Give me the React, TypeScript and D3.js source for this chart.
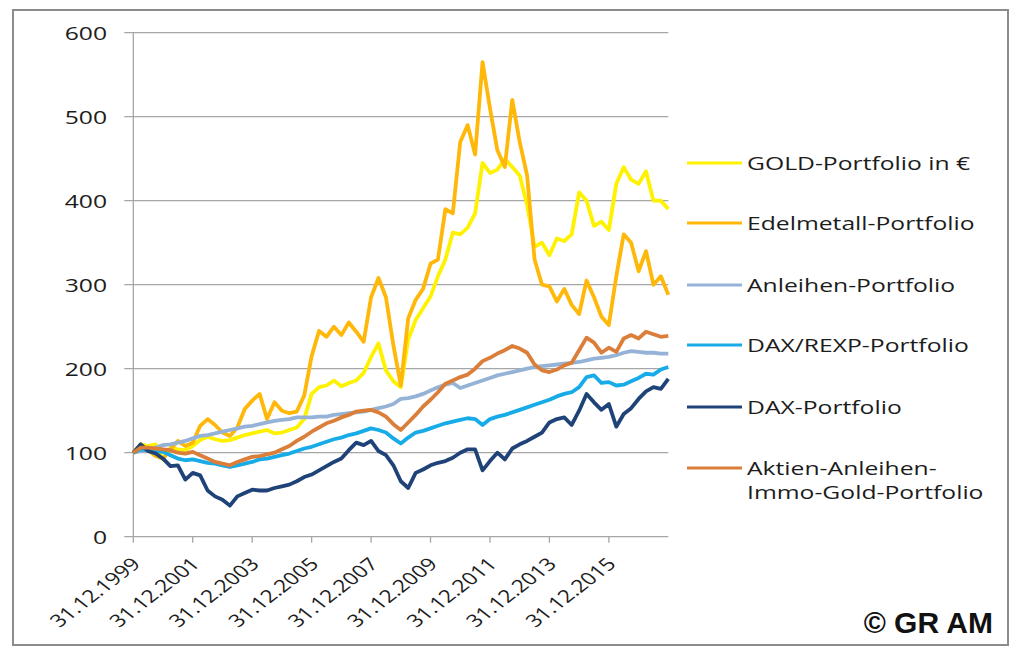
import React, { useEffect, useRef } from "react";
import * as d3 from "d3";

// one reading per quarter, starting 31.12.1999 (t = 0 years)
const START_YEAR = 1999;
const STEP = 0.25;

const goldValues = [
  100, 110, 108, 110, 92, 106, 104, 103, 108, 115, 119, 116, 114, 115, 118, 121,
  123, 125, 127, 123, 124, 127, 130, 140, 170, 178, 180, 186, 179, 183, 186, 195,
  214, 230, 198, 185, 178, 235, 258, 272, 286, 310, 330, 362, 360, 368, 385, 445,
  433, 437, 450, 440, 430, 395, 345, 350, 335, 355, 352, 360, 410, 400, 370, 375,
  365, 420, 440, 425, 420, 435, 400, 400, 390,
];
const edelmetallValues = [
  100, 106, 103, 96, 93, 104, 114, 108, 112, 132, 140, 133, 124, 120, 130, 152,
  162, 170, 140, 160, 150, 147, 149, 168, 215, 245, 238, 250, 240, 255, 244, 232,
  285, 308, 285, 228, 180, 260, 282, 295, 325, 330, 390, 385, 470, 490, 455, 565,
  510, 460, 440, 520, 470, 430, 330, 300, 298, 280, 295, 276, 265, 305, 285, 262,
  252, 310, 360, 350, 316, 340, 300, 310, 288,
];
const anleihenValues = [
  100, 102, 103, 106, 109, 110, 112, 114, 117, 120, 121, 123, 125, 127, 129, 131,
  132, 134, 136, 138, 139, 140, 142, 142, 142, 143, 143, 145, 146, 147, 148, 149,
  151, 153, 155, 158, 164, 165, 167, 170, 174, 178, 181, 183, 177, 180, 183, 186,
  189, 192, 194, 196, 198, 200, 202, 203, 204, 205, 206, 207, 208, 210, 212, 213,
  214, 216, 219, 221, 220, 219, 219, 218, 218,
];
const daxRexpValues = [
  100, 104, 103, 102, 101, 97, 93, 91, 92, 90, 88, 87, 85, 83, 85, 87,
  89, 92, 93, 95, 97, 99, 102, 105, 107, 110, 113, 116, 118, 121, 123, 126,
  129, 127, 124, 117, 111, 118, 124, 126, 129, 132, 135, 137, 139, 141, 140, 133,
  140, 143, 145, 148, 151, 154, 157, 160, 163, 167, 170, 172, 178, 190, 192, 183,
  184, 180, 181, 185, 189, 194, 193, 199, 202,
];
const daxValues = [
  100, 110, 102, 99, 93, 84, 85, 68, 76, 73, 55, 48, 44, 37, 48, 52,
  56, 55, 55, 58, 60, 62, 66, 71, 74, 79, 84, 89, 93, 103, 112, 109,
  114, 102, 97, 85, 66, 58, 76, 80, 85, 88, 90, 94, 100, 104, 104, 79,
  90, 100, 92, 105, 110, 114, 119, 124, 136, 140, 142, 133, 150, 170, 160, 151,
  158, 131, 146, 153, 164, 173, 178, 176, 188,
];
const mixValues = [
  100, 106, 106, 105, 104, 103, 100, 99, 101, 97, 93, 89, 87, 85, 89, 92,
  95, 96, 98, 100, 104, 108, 114, 119, 125, 130, 135, 138, 142, 145, 149, 150,
  151, 148, 143, 134, 127, 136, 145, 155, 163, 172, 182, 186, 190, 193, 200, 209,
  213, 218, 222, 227, 224, 219, 205, 198, 196, 199, 204, 207, 222, 237, 231, 219,
  225, 220, 236, 240, 236, 244, 241, 238, 239,
];

const series = [
  { label: ["GOLD-Portfolio in €"], color: "#FFF200", values: goldValues },
  { label: ["Edelmetall-Portfolio"], color: "#FFB80A", values: edelmetallValues },
  { label: ["Anleihen-Portfolio"], color: "#95B3D7", values: anleihenValues },
  { label: ["DAX/REXP-Portfolio"], color: "#17ACE8", values: daxRexpValues },
  { label: ["DAX-Portfolio"], color: "#1F4378", values: daxValues },
  { label: ["Aktien-Anleihen-", "Immo-Gold-Portfolio"], color: "#DA7E3A", values: mixValues },
];

const yTicks = [0, 100, 200, 300, 400, 500, 600];
const xTickYears = [1999, 2001, 2003, 2005, 2007, 2009, 2011, 2013, 2015];
const legendRowsY = [163, 223, 285, 345, 407, 468];

const FONT = "'Open Sans', 'DejaVu Sans', sans-serif";
const TEXT_COLOR = "#1c1c1c";
// the original picture is stretched sideways, text included
const STRETCH = 1.3;

export default function App() {
  const svgRef = useRef<SVGSVGElement>(null);

  useEffect(() => {
    if (!svgRef.current) return;
    const svg = d3.select(svgRef.current);
    svg.selectAll("*").remove();

    const plot = { left: 133.3, right: 668.3, top: 32.7, bottom: 536.7 };
    const x = d3.scaleLinear().domain([0, 18]).range([plot.left, plot.right]);
    const y = d3.scaleLinear().domain([0, 600]).range([plot.bottom, plot.top]);

    svg.append("rect").attr("width", 1024).attr("height", 662).attr("fill", "#fff");

    // outer frame
    svg.append("rect")
      .attr("x", 13).attr("y", 10)
      .attr("width", 995).attr("height", 635)
      .attr("fill", "#fff")
      .attr("stroke", "#8c8c8c")
      .attr("stroke-width", 2);

    // gridlines + y labels
    yTicks.forEach((v) => {
      svg.append("line")
        .attr("x1", plot.left - 9).attr("x2", plot.right)
        .attr("y1", y(v)).attr("y2", y(v))
        .attr("stroke", "#a6a6a6").attr("stroke-width", 1.3);
      svg.append("g")
        .attr("transform", `translate(107,${y(v)}) scale(${STRETCH},1)`)
        .append("text")
        .attr("text-anchor", "end")
        .attr("dy", "0.36em")
        .attr("font-family", FONT)
        .attr("font-size", 19)
        .attr("fill", TEXT_COLOR)
        .text(String(v));
    });

    // y axis line
    svg.append("line")
      .attr("x1", plot.left).attr("x2", plot.left)
      .attr("y1", plot.top).attr("y2", plot.bottom)
      .attr("stroke", "#a6a6a6").attr("stroke-width", 1.3);

    // x ticks + rotated date labels
    xTickYears.forEach((yr) => {
      const tx = x(yr - START_YEAR);
      svg.append("line")
        .attr("x1", tx).attr("x2", tx)
        .attr("y1", plot.bottom).attr("y2", plot.bottom + 6)
        .attr("stroke", "#a6a6a6").attr("stroke-width", 1.3);
      svg.append("text")
        .attr("transform", `translate(${tx + 2.5},${plot.bottom + 24}) scale(${STRETCH},1) rotate(-45)`)
        .attr("text-anchor", "end")
        .attr("dy", "0.36em")
        .attr("font-family", FONT)
        .attr("font-size", 17.5)
        .attr("fill", TEXT_COLOR)
        .text(`31.12.${yr}`);
    });

    // series lines
    const line = d3.line<number>()
      .x((_, i) => x(i * STEP))
      .y((d) => y(d));

    series.forEach((s) => {
      svg.append("path")
        .datum(s.values)
        .attr("fill", "none")
        .attr("stroke", s.color)
        .attr("stroke-width", 3.8)
        .attr("stroke-linejoin", "round")
        .attr("d", line);
    });

    // legend
    series.forEach((s, i) => {
      const ly = legendRowsY[i];
      svg.append("line")
        .attr("x1", 687).attr("x2", 742)
        .attr("y1", ly).attr("y2", ly)
        .attr("stroke", s.color).attr("stroke-width", 3);
      const t = svg.append("g")
        .attr("transform", `translate(747,${ly}) scale(${STRETCH},1)`)
        .append("text")
        .attr("font-family", FONT)
        .attr("font-size", 19)
        .attr("fill", TEXT_COLOR);
      s.label.forEach((part, j) => {
        t.append("tspan")
          .attr("x", 0)
          .attr("y", j * 24)
          .attr("dy", "0.36em")
          .text(part);
      });
    });

    // copyright
    svg.append("text")
      .attr("x", 993).attr("y", 633)
      .attr("text-anchor", "end")
      .attr("font-family", "'Liberation Sans', Arial, sans-serif")
      .attr("font-weight", "bold")
      .attr("font-size", 30)
      .attr("fill", "#111")
      .text("© GR AM");
  }, []);

  return (
    <svg
      ref={svgRef}
      width={1024}
      height={662}
      style={{ position: "absolute", left: 0, top: 0 }}
    />
  );
}
